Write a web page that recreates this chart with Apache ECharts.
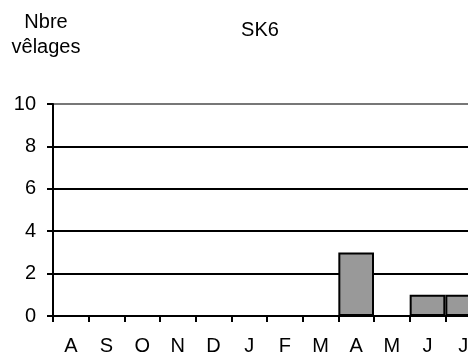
<!DOCTYPE html>
<html><head><meta charset="utf-8">
<script src="https://cdn.jsdelivr.net/npm/echarts@6/dist/echarts.min.js"></script>
<style>html,body{margin:0;padding:0;background:#fff}#c{width:468px;height:356px}</style>
</head><body><div id="c"></div>
<script>
const months = ['A','S','O','N','D','J','F','M','A','M','J','J'];
const velages = [0,0,0,0,0,0,0,0,3,0,1,1];
const yTicks = [0,2,4,6,8,10];
const chart = echarts.init(document.getElementById('c'));
const font = 'Arial, "Liberation Sans", sans-serif';
chart.setOption({
  animation:false,
  backgroundColor:'#fff',
  title:[
    {text:'SK6', left:260, top:20, textAlign:'center', padding:0, textStyle:{fontFamily:font,fontSize:20,fontWeight:'normal',color:'#000',lineHeight:20}},
    {text:'Nbre\nvêlages', left:46, top:10, textAlign:'center', padding:0, textStyle:{fontFamily:font,fontSize:20,fontWeight:'normal',color:'#000',lineHeight:25}}
  ],
  grid:{left:53, top:104, width:428, height:212, containLabel:false, outerBoundsMode:'none'},
  xAxis:{type:'category', data:months, boundaryGap:true,
    axisLine:{lineStyle:{color:'#000',width:2}},
    axisTick:{show:true,length:6,lineStyle:{color:'#000',width:2}},
    axisLabel:{margin:20,fontFamily:font,fontSize:20,color:'#000'}},
  yAxis:{type:'value', min:yTicks[0], max:yTicks[yTicks.length-1], interval:2,
    axisLine:{show:true,lineStyle:{color:'#000',width:2}},
    axisTick:{show:true,length:6,lineStyle:{color:'#000',width:2}},
    axisLabel:{margin:17,fontFamily:font,fontSize:20,color:'#000'},
    splitLine:{show:true,lineStyle:{color:['#000','#000','#000','#000','#000','#777'],width:2}}},
  series:[{type:'bar', data:velages, barCategoryGap:'0%',
    itemStyle:{color:'#999999',borderColor:'#000',borderWidth:2}}]
});
</script></body></html>
